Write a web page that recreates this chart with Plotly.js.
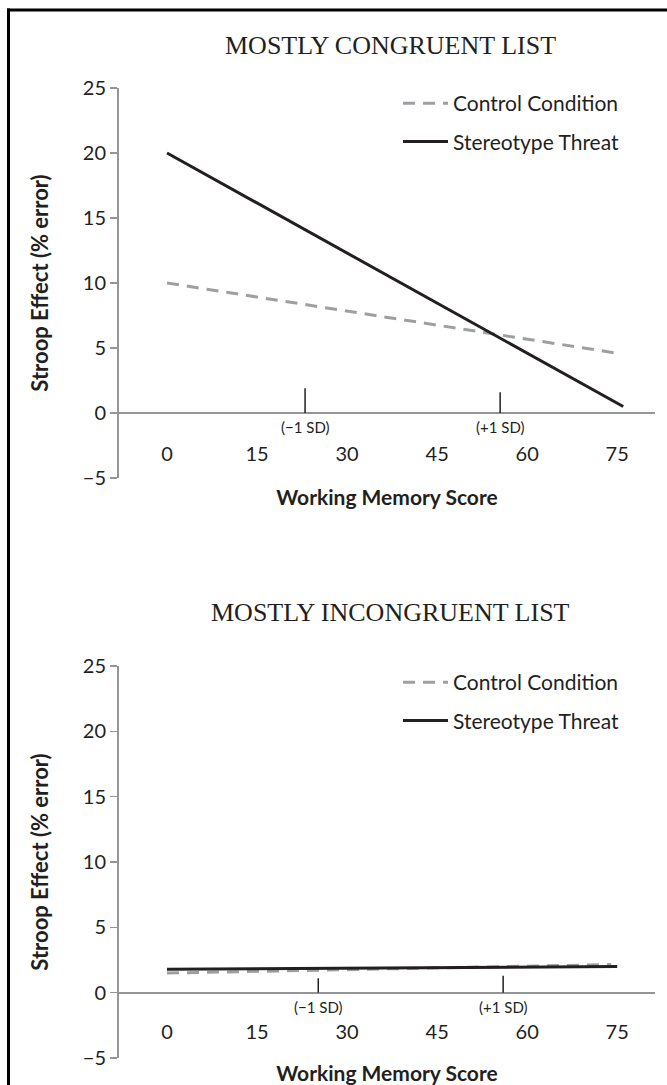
<!DOCTYPE html>
<html>
<head>
<meta charset="utf-8">
<script src="https://cdn.plot.ly/plotly-3.0.1.min.js"></script>
<style>
html,body{margin:0;padding:0;background:#fff;}
#chart{width:667px;height:1085px;}
</style>
</head>
<body>
<div id="chart"></div>
<script>
// ---- data ----
const xTickVals = [0, 15, 30, 45, 60, 75];
const xTickText = ['0', '15', '30', '45', '60', '75'];
const yTickVals = [-5, 0, 5, 10, 15, 20, 25];
const panelTitles = ['MOSTLY CONGRUENT LIST', 'MOSTLY INCONGRUENT LIST'];
const seriesNames = ['Control Condition', 'Stereotype Threat'];

// Mostly congruent list
const congControlX = [0, 75];
const congControlY = [10, 4.6];
const congThreatX = [0, 76];
const congThreatY = [20, 0.5];
const congSDx = [23, 55.5];
const congSDh = [1.9, 1.6];

// Mostly incongruent list
const incongControlX = [0, 74];
const incongControlY = [1.5, 2.15];
const incongThreatX = [0, 75];
const incongThreatY = [1.8, 2.0];
const incongSDx = [25.2, 56];
const incongSDh = [1.1, 1.3];

const sdLabels = ['(\u22121 SD)', '(+1 SD)'];
const xTitle = 'Working Memory Score';
const yTitle = 'Stroop Effect (% error)';

// ---- style ----
const W = 667, H = 1085;
const SANS = 'Lato, "Open Sans", sans-serif';
const SERIF = '"Liberation Serif", "Times New Roman", serif';
const INK = '#231f20';
const AXIS = '#939598';
const DASH = '#9d9fa2';
const py = p => 1 - p / H;
const px = p => p / W;

const panels = [
  {top: 88, bot: 478, title: 45, labels: 440, legend: 83,
   cx: congControlX, cy: congControlY, tx: congThreatX, ty: congThreatY, sd: congSDx, sdh: congSDh},
  {top: 666, bot: 1058, title: 612, labels: 1018, legend: 662,
   cx: incongControlX, cy: incongControlY, tx: incongThreatX, ty: incongThreatY, sd: incongSDx, sdh: incongSDh}
];

const traces = [];
const layout = {
  width: W, height: H,
  margin: {l: 0, r: 0, t: 0, b: 0},
  paper_bgcolor: '#fff', plot_bgcolor: 'rgba(0,0,0,0)',
  font: {family: SANS, color: INK, size: 20},
  annotations: [], shapes: []
};

panels.forEach((p, i) => {
  const n = i === 0 ? '' : '2';
  const xa = 'x' + n, ya = 'y' + n;
  const leg = i === 0 ? 'legend' : 'legend2';
  traces.push({
    x: p.cx, y: p.cy, xaxis: xa, yaxis: ya, mode: 'lines', name: seriesNames[0],
    legend: leg, legendgroup: 'c' + i,
    line: {color: DASH, width: 3, dash: '12px,8px'}
  });
  traces.push({
    x: p.tx, y: p.ty, xaxis: xa, yaxis: ya, mode: 'lines', name: seriesNames[1],
    legend: leg, legendgroup: 't' + i,
    line: {color: INK, width: 3}
  });
  p.sd.forEach((s, k) => {
    traces.push({
      x: [s, s], y: [0, p.sdh[k]], xaxis: xa, yaxis: ya, mode: 'lines',
      showlegend: false, hoverinfo: 'skip', line: {color: INK, width: 1.5}
    });
    layout.annotations.push({
      xref: xa, yref: ya, x: s, y: 0, yanchor: 'top', yshift: -3,
      text: sdLabels[k], showarrow: false, font: {size: 15, color: INK, family: SANS}
    });
  });
  layout['xaxis' + n] = {
    domain: [px(119), px(655)], range: [-8, 81.3],
    anchor: 'free', position: py(p.labels),
    showline: false, zeroline: false, showgrid: false, ticks: '',
    tickmode: 'array', tickvals: xTickVals, ticktext: xTickText,
    tickfont: {size: 20, color: INK},
    title: {text: '<b>' + xTitle + '</b>', font: {size: 21, color: INK}, standoff: 26}
  };
  layout['yaxis' + n] = {
    domain: [py(p.bot), py(p.top)], range: [-5, 25], anchor: xa,
    showline: true, linecolor: AXIS, linewidth: 2,
    zeroline: true, zerolinecolor: AXIS, zerolinewidth: 2,
    showgrid: false, ticks: 'outside', ticklen: 7, tickwidth: 1.5, tickcolor: AXIS,
    tickmode: 'array', tickvals: yTickVals,
    tickfont: {size: 20, color: INK},
    title: {text: '<b>' + yTitle + '</b>', font: {size: 22, color: INK}, standoff: 28}
  };
  layout[leg] = {
    x: px(398), y: py(p.legend), xanchor: 'left', yanchor: 'top',
    bgcolor: 'rgba(0,0,0,0)', borderwidth: 0, tracegroupgap: 8,
    itemwidth: 45, font: {size: 21, color: INK, family: SANS}
  };
  layout.annotations.push({
    xref: 'paper', yref: 'paper', x: px(390), y: py(p.title),
    xanchor: 'center', yanchor: 'middle', showarrow: false,
    text: panelTitles[i], font: {family: SERIF, size: 26, color: INK}
  });
});

// outer frame (left and top edges visible)
layout.shapes.push({type: 'line', xref: 'paper', yref: 'paper',
  x0: px(8.5), x1: px(8.5), y0: 0, y1: py(8.5), line: {color: '#000', width: 3}});
layout.shapes.push({type: 'line', xref: 'paper', yref: 'paper',
  x0: px(7), x1: 1, y0: py(10), y1: py(10), line: {color: '#000', width: 3}});

Plotly.newPlot('chart', traces, layout, {displayModeBar: false, staticPlot: true});
</script>
</body>
</html>
